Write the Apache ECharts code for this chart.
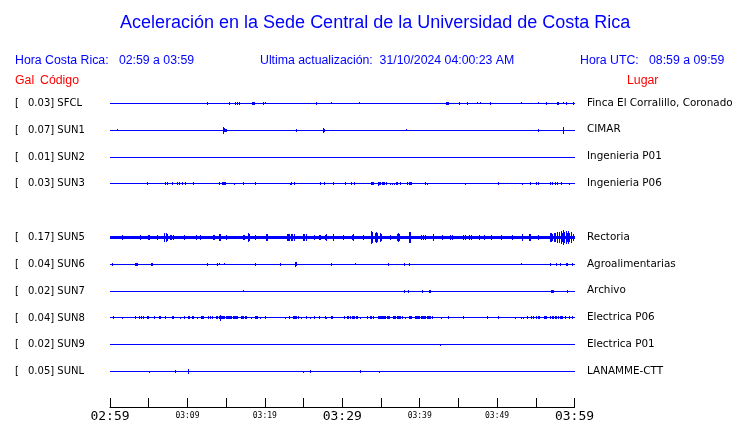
<!DOCTYPE html>
<html>
<head>
<meta charset="utf-8">
<script src="https://cdn.jsdelivr.net/npm/echarts@6/dist/echarts.min.js"></script>
<style>
html,body{margin:0;padding:0;background:#fff;}
#chart{width:740px;height:423px;}
</style>
</head>
<body>
<div id="chart"></div>
<script>
// ---------- data ----------
const codes  = ['SFCL','SUN1','SUN2','SUN3','SUN5','SUN6','SUN7','SUN8','SUN9','SUNL'];
const gal    = [0.03, 0.07, 0.01, 0.03, 0.17, 0.04, 0.02, 0.04, 0.02, 0.05];
const places = ['Finca El Corralillo, Coronado','CIMAR','Ingenieria P01','Ingenieria P06','Rectoria',
                'Agroalimentarias','Archivo','Electrica P06','Electrica P01','LANAMME-CTT'];
// background noise half-amplitude (relative units) per station
const noise  = [0, 0, 0, 0, 2, 0, 0, 0, 0, 0];
// spikes: [minute since 02:59, half amplitude (relative units)]
const spkSFCL = [[12.56,1.5],[15.4,1.5],[16.17,1.5],[16.43,1.5],[16.69,1.5],[18.45,1.5],[18.54,1.5],[18.63,1.5],[19.78,1.5],[20.04,1],[26.62,1.5],[28.56,1],[32.17,1],[43.44,1.5],[43.62,1.5],[43.72,1.5],[45.2,1.5],[46.24,1.5],[47.53,1],[47.91,1],[49.2,1.5],[53.2,1],[55.4,1],[56.43,1.5],[57.8,1.5],[57.9,1.5],[57.98,1.5],[58.54,1],[58.92,1.5],[59.83,1.5]];
const spkSUN1 = [[0.95,1],[14.62,3.5],[14.75,2],[14.92,1.5],[15.0,1.5],[24.04,1.5],[27.57,2.5],[27.74,1.5],[38.24,1],[55.4,1.5],[58.54,3.5]];
const spkSUN2 = [];
const spkSUN3 = [[4.82,1.5],[7.14,1.5],[7.4,1.5],[8.09,1.5],[8.73,1.5],[8.99,1.5],[9.33,1.5],[9.72,1.5],[10.75,1.5],[14.1,1.5],[14.5,1.5],[14.65,1.5],[14.8,1.5],[14.95,1.5],[16.04,1],[17.2,1.5],[18.84,1.5],[23.27,1],[23.44,1.5],[23.83,1.5],[27.14,1.5],[27.74,1.5],[28.82,1.5],[30.37,1.5],[31.18,1.5],[31.61,1.5],[33.76,1.5],[33.95,1.5],[34.1,1.5],[34.7,2],[34.85,1.5],[35.0,1.5],[35.15,1.5],[35.3,1.5],[35.5,1.5],[35.74,1.5],[36.26,1],[36.52,1],[36.77,1],[37.03,1.5],[37.2,1.5],[37.46,1.5],[38.49,1.5],[38.65,1.5],[38.8,1.5],[39.0,1.5],[40.73,1.5],[40.99,1],[45.98,1],[50.24,1.5],[53.33,1],[54.37,1.5],[55.14,1.5],[55.4,1.5],[56.95,1.5],[57.1,1.5],[57.2,1.5],[57.5,1.5],[57.76,1.5],[58.37,1.5],[59.4,1]];
const spkSUN5 = [[1.63,2.5],[2.02,2],[3.57,2],[4.0,2.5],[5.0,3],[5.15,3],[6.15,2.5],[7.1,4.5],[7.27,4.5],[7.45,4],[7.8,3],[8.0,3],[8.2,3],[9.68,2.5],[11.18,2.5],[11.74,2.5],[13.4,2.5],[13.55,2.5],[14.19,4],[14.25,3.5],[15.05,2.5],[17.25,3],[17.4,3],[17.94,4.5],[18.0,3.5],[18.84,2.5],[20.2,3.5],[20.35,4],[21.08,2],[22.9,3.5],[23.05,4],[23.2,3.5],[23.44,4],[23.6,3.5],[23.87,3.5],[25.0,4],[25.15,3.5],[25.4,3.5],[26.45,2.5],[27.1,3],[27.25,3],[27.8,3],[27.95,3.5],[28.82,4],[30.11,2.5],[31.3,3],[31.45,3.5],[32.69,2.5],[33.76,6.5],[33.85,5.5],[34.3,5],[34.45,5.5],[34.6,5],[34.97,4.5],[35.1,4],[36.26,3],[37.1,4],[37.25,5],[37.4,3.5],[38.7,6],[38.85,5.5],[40.3,3],[40.5,3],[40.7,3],[41.85,4],[42.92,2.5],[44.0,2.5],[44.2,2.5],[45.7,3],[45.9,3],[46.5,3],[46.65,3],[47.74,2.5],[48.39,2.5],[49.25,2.5],[50.54,2.5],[52.04,2.5],[53.33,4],[54.2,3.5],[54.35,3.5],[55.4,3],[56.9,5],[57.05,4.5],[57.2,4],[57.42,5],[57.6,4.5],[57.85,5.5],[58.05,6],[58.28,6.5],[58.45,5],[58.62,8],[58.75,6],[58.92,6.5],[59.1,5],[59.23,7],[59.4,5],[59.57,6],[59.83,4]];
const spkSUN6 = [[0.3,1.5],[3.35,1.5],[3.45,1.5],[3.55,1.5],[5.3,1.5],[5.4,1.5],[5.5,1.5],[12.56,1.5],[13.85,1.5],[14.11,1],[14.75,1],[18.75,1.5],[22.02,1.5],[23.9,2],[24.0,2.5],[24.12,2],[28.56,1.5],[31.66,1],[35.91,1.5],[37.98,1.5],[38.75,1.5],[53.2,1],[56.85,1.5],[56.95,1.5],[57.72,1.5],[58.24,1.5],[58.95,1.5],[59.05,1.5],[59.78,1.5]];
const spkSUN7 = [[17.2,0.7],[37.98,1.5],[38.62,1.5],[40.43,1.5],[41.3,1.5],[41.42,1.5],[57.0,1.5],[57.12,1.5],[57.25,1.5],[59.14,1.5]];
const spkSUN8 = [[0.43,1.5],[1.59,1],[3.31,1.5],[3.78,1.5],[4.09,1.5],[4.34,1.5],[4.8,1.5],[4.92,1.5],[5.76,1.5],[6.37,1.5],[6.5,1.5],[6.58,1.5],[7.18,1.5],[8.04,1.5],[8.15,1.5],[8.26,1.5],[9.12,1],[9.63,1.5],[10.2,1.5],[10.3,1.5],[10.7,1.5],[10.8,1.5],[11.31,1],[11.87,1.5],[12.0,1.5],[12.13,1.5],[12.73,1.5],[13.03,1.5],[13.25,1.5],[13.7,1.5],[13.9,1.5],[14.1,1.5],[14.24,3],[14.4,1.5],[14.55,1.5],[14.7,1.5],[14.85,1.5],[15.0,1.5],[15.15,1.5],[15.3,1.5],[15.45,1.5],[15.6,1.5],[15.75,1.5],[15.9,1.5],[16.05,1.5],[16.2,1.5],[16.35,1.5],[16.5,1.5],[17.0,1.5],[17.15,1.5],[17.3,1.5],[17.45,1.5],[17.6,1.5],[18.28,1],[18.8,1.5],[18.95,1.5],[19.1,1.5],[19.44,1],[20.09,1.5],[22.62,1],[23.14,1.5],[23.7,1.5],[23.85,1.5],[24.0,1.5],[24.15,1.5],[24.3,1.5],[24.73,1],[25.38,1.5],[25.85,1],[26.41,1.5],[27.1,1.5],[27.8,1.5],[27.95,1],[28.65,1.5],[28.8,1.5],[30.24,1.5],[30.67,1.5],[30.85,1.5],[31.05,1.5],[31.3,1.5],[31.45,1.5],[31.6,1.5],[31.8,1.5],[31.96,1.5],[32.34,1],[33.25,1.5],[33.63,1.5],[33.8,1.5],[34.02,1.5],[34.62,1.5],[34.76,1.5],[34.9,1.5],[35.05,1.5],[35.2,1.5],[35.35,1.5],[35.5,1.5],[35.65,1.5],[35.8,1.5],[35.95,1.5],[36.1,1.5],[36.6,1.5],[36.75,1.5],[36.9,1.5],[37.1,1.5],[37.25,1.5],[37.4,1.5],[37.55,1.5],[37.76,1.5],[38.15,1],[38.67,1.5],[38.8,1.5],[38.92,1.5],[39.4,1.5],[39.55,1.5],[39.7,1.5],[39.85,1.5],[39.96,1.5],[40.2,1.5],[40.35,1.5],[40.5,1.5],[40.65,1.5],[40.8,1.5],[40.95,1.5],[41.1,1.5],[41.25,1.5],[41.38,1.5],[41.6,1.5],[42.88,1],[43.78,1.5],[45.72,1.5],[48.73,1.5],[50.24,1.5],[52.43,1],[53.2,1],[53.46,1],[53.98,1.5],[54.5,1.5],[54.75,1.5],[55.14,1.5],[55.3,1.5],[55.45,1.5],[55.53,1.5],[56.17,1.5],[56.3,1.5],[56.43,1.5],[56.95,1.5],[57.2,1.5],[57.35,1.5],[57.5,1.5],[57.68,1.5],[57.98,1.5],[58.15,1.5],[58.3,1.5],[58.5,1.5],[58.88,1.5],[59.4,1.5],[59.78,1.5]];
const spkSUN9 = [[42.75,0.8]];
const spkSUNL = [[5.08,1],[8.43,1.5],[10.1,2.5],[10.2,2.5],[24.95,1],[25.85,1.5],[32.3,1.5],[34.75,1]];
const spikes = [spkSFCL,spkSUN1,spkSUN2,spkSUN3,spkSUN5,spkSUN6,spkSUN7,spkSUN8,spkSUN9,spkSUNL];

const tickLabels = {0:'02:59',10:'03:09',20:'03:19',30:'03:29',40:'03:39',50:'03:49',60:'03:59'};
const majorTicks = [0,30,60];
const spanMinutes = 60;

const titleText = 'Aceleración en la Sede Central de la Universidad de Costa Rica';
const hdrLocal  = 'Hora Costa Rica:   02:59 a 03:59';
const hdrUpdate = 'Ultima actualización:  31/10/2024 04:00:23 AM';
const hdrUTC    = 'Hora UTC:   08:59 a 09:59';

// ---------- layout (rows: a blank row after the 4th station) ----------
const GAP_AFTER = 4;
const UNITS_PER_ROW = 27;
const rowOf = i => i < GAP_AFTER ? i : i + 1;
const nRows = codes.length + 1;

const leftLabels = new Array(nRows).fill('');
const rightLabels = new Array(nRows).fill('');
codes.forEach((c, i) => {
  leftLabels[rowOf(i)] = '{a|[}{b|' + gal[i].toFixed(2) + '] ' + c + '}';
  rightLabels[rowOf(i)] = places[i];
});

const BLUE = '#0000ff';

// baseline / noise band items: [row, noiseHalf]
const baseData = codes.map((c, i) => [rowOf(i), noise[i]]);
// spike items: [minute, row, halfAmp]
const spikeData = [];
codes.forEach((c, i) => spikes[i].forEach(([t, a]) => spikeData.push([t, rowOf(i), a])));

function renderBase(params, api) {
  const r = api.value(0), n = api.value(1) / UNITS_PER_ROW;
  const p0 = api.coord([0, r]);
  const p1 = api.coord([spanMinutes, r]);
  let top, h;
  if (n > 0) {
    const a = api.coord([0, r - n])[1] + 0.5, b = api.coord([0, r + n])[1] + 0.5;
    top = Math.round(a); h = Math.max(1, Math.round(b) - top);
  } else {
    top = Math.round(p0[1]); h = 1;
  }
  return {type: 'rect', shape: {x: Math.round(p0[0]), y: top, width: Math.round(p1[0]) - Math.round(p0[0]), height: h},
          style: {fill: BLUE}, silent: true};
}
function renderSpike(params, api) {
  const t = api.value(0), r = api.value(1), a = api.value(2) / UNITS_PER_ROW;
  const pa = api.coord([t, r - a]), pb = api.coord([t, r + a]);
  const top = Math.round(pa[1] + 0.5);
  const h = Math.max(1, Math.round(pb[1] + 0.5) - top);
  return {type: 'rect', shape: {x: Math.floor(pa[0]), y: top, width: 1, height: h},
          style: {fill: BLUE}, silent: true};
}

const chart = echarts.init(document.getElementById('chart'), null, {renderer: 'canvas'});
const hdrFont = {fontFamily: 'Liberation Sans', fontSize: 12.3, fontWeight: 'normal'};
chart.setOption({
  backgroundColor: '#ffffff',
  animation: false,
  title: [
    {text: titleText, left: 120, top: 14, padding: 0, textStyle: {color: BLUE, fontFamily: 'Liberation Sans', fontSize: 18, fontWeight: 'normal'}},
    {text: hdrLocal, left: 15, top: 55, padding: 0, textStyle: Object.assign({color: BLUE}, hdrFont)},
    {text: hdrUpdate, left: 260, top: 55, padding: 0, textStyle: Object.assign({color: BLUE}, hdrFont)},
    {text: hdrUTC, left: 580, top: 55, padding: 0, textStyle: Object.assign({color: BLUE}, hdrFont)},
    {text: 'Gal', left: 15, top: 75, padding: 0, textStyle: Object.assign({color: '#ff0000'}, hdrFont)},
    {text: 'Código', left: 40, top: 75, padding: 0, textStyle: Object.assign({color: '#ff0000'}, hdrFont)},
    {text: 'Lugar', left: 627, top: 75, padding: 0, textStyle: Object.assign({color: '#ff0000'}, hdrFont)}
  ],
  grid: {left: 110, right: 165.5, top: 89.5, bottom: 36.5, containLabel: false},
  xAxis: [{
    type: 'value', min: 0, max: spanMinutes, interval: 5, offset: 22.5,
    splitLine: {show: false},
    axisLine: {show: true, onZero: false, lineStyle: {color: '#000', width: 1}},
    axisTick: {show: true, inside: true, length: 9, lineStyle: {color: '#000', width: 1}},
    axisLabel: {
      show: true, margin: 2, showMinLabel: true, showMaxLabel: true,
      formatter: v => tickLabels[v] === undefined ? '' :
        (majorTicks.indexOf(v) >= 0 ? '{big|' + tickLabels[v] + '}' : '{small|' + tickLabels[v] + '}'),
      rich: {
        big: {fontFamily: 'DejaVu Sans Mono', fontSize: 13, color: '#000', padding: [1, 0, 0, 0]},
        small: {fontFamily: 'DejaVu Sans Mono', fontSize: 8, color: '#000', padding: [3, 0, 0, 0]}
      }
    }
  }],
  yAxis: [
    {type: 'category', position: 'left', inverse: true, data: leftLabels, boundaryGap: true,
     axisLine: {show: false}, axisTick: {show: false}, splitLine: {show: false},
     axisLabel: {show: true, interval: 0, align: 'left', margin: 95,
       rich: {a: {width: 13, fontFamily: 'DejaVu Sans', fontSize: 10, color: '#000', padding: [1, 0, 0, 0]},
              b: {fontFamily: 'DejaVu Sans', fontSize: 10, color: '#000', padding: [1, 0, 0, 0]}}}},
    {type: 'category', position: 'right', inverse: true, data: rightLabels, boundaryGap: true,
     axisLine: {show: false}, axisTick: {show: false}, splitLine: {show: false},
     axisLabel: {show: true, interval: 0, align: 'left', margin: 12.5, padding: [1, 0, 0, 0],
       fontFamily: 'DejaVu Sans', fontSize: 10.4, color: '#000'}},
    {type: 'value', inverse: true, min: -0.5, max: nRows - 0.5, show: false,
     splitLine: {show: false}}
  ],
  series: [
    {type: 'custom', name: 'baseline', xAxisIndex: 0, yAxisIndex: 2, data: baseData,
     encode: {y: 0}, renderItem: renderBase, clip: false, silent: true, z: 2},
    {type: 'custom', name: 'spikes', xAxisIndex: 0, yAxisIndex: 2, data: spikeData,
     encode: {x: 0, y: 1}, renderItem: renderSpike, clip: false, silent: true, z: 3}
  ]
});
</script>
</body>
</html>
